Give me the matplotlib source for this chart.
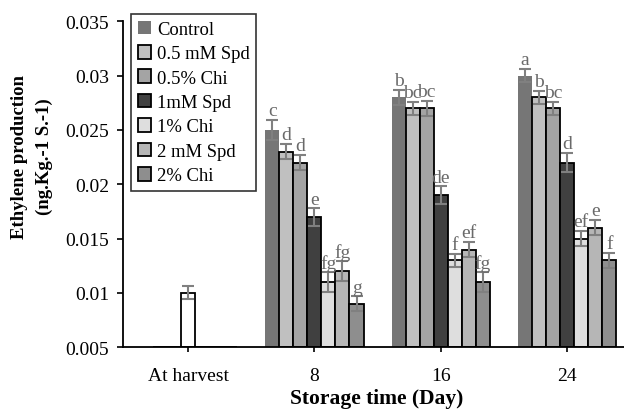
import numpy as np
import matplotlib
matplotlib.use("Agg")
import matplotlib.pyplot as plt

plt.rcParams['font.family'] = ['Liberation Serif', 'DejaVu Serif']

groups = ["At harvest", "8", "16", "24"]
series = ["Control", "0.5 mM Spd", "0.5% Chi", "1mM Spd", "1% Chi", "2 mM Spd", "2% Chi"]
colors = ["#767676", "#c0c0c0", "#a4a4a4", "#404040", "#dedede", "#b6b6b6", "#8e8e8e"]
edges = ["none", "black", "black", "black", "black", "black", "black"]

# storage days 8, 16, 24 (ng.Kg-1 S-1)
control   = [0.025, 0.028, 0.030]
spd_05    = [0.023, 0.027, 0.028]
chi_05    = [0.022, 0.027, 0.027]
spd_1     = [0.017, 0.019, 0.022]
chi_1     = [0.011, 0.013, 0.015]
spd_2     = [0.012, 0.014, 0.016]
chi_2     = [0.009, 0.011, 0.013]
values = [control, spd_05, chi_05, spd_1, chi_1, spd_2, chi_2]

err_control = [0.0009, 0.0007, 0.0006]
err_spd_05  = [0.0007, 0.0006, 0.0006]
err_chi_05  = [0.0007, 0.0007, 0.0006]
err_spd_1   = [0.0008, 0.0008, 0.0009]
err_chi_1   = [0.0009, 0.0006, 0.0007]
err_spd_2   = [0.0009, 0.0007, 0.0007]
err_chi_2   = [0.0007, 0.0009, 0.0007]
errors = [err_control, err_spd_05, err_chi_05, err_spd_1, err_chi_1, err_spd_2, err_chi_2]

letters_control = ["c", "b", "a"]
letters_spd_05  = ["d", "bc", "b"]
letters_chi_05  = ["d", "bc", "bc"]
letters_spd_1   = ["e", "de", "d"]
letters_chi_1   = ["fg", "f", "ef"]
letters_spd_2   = ["fg", "ef", "e"]
letters_chi_2   = ["g", "fg", "f"]
letters = [letters_control, letters_spd_05, letters_chi_05, letters_spd_1,
           letters_chi_1, letters_spd_2, letters_chi_2]

harvest_value = 0.01
harvest_err = 0.0006

base = 0.005
width = 0.111

fig = plt.figure(figsize=(6.24, 4.14), dpi=100)
ax = fig.add_axes([123/624, 1 - 348.3/414, 1 - 123/624, (348.3 - 22.3)/414])

x = np.arange(1, 4)
handles = []
for i, name in enumerate(series):
    pos = x + (i - 3) * width
    h = [v - base for v in values[i]]
    b = ax.bar(pos, h, width, bottom=base, color=colors[i], edgecolor=edges[i],
               linewidth=1.3, label=name, zorder=2)
    handles.append(b)
    # empty slot at harvest
    ax.bar([0 + (i - 3) * width], [0], width, bottom=base, color=colors[i],
           edgecolor=edges[i], linewidth=1.3, zorder=2)
    ax.errorbar(pos, values[i], yerr=errors[i], fmt="none", ecolor="#808080",
                elinewidth=1.5, capsize=4, capthick=1.5, zorder=3)
    for p, v, e, t in zip(pos, values[i], errors[i], letters[i]):
        ax.annotate(t, (p, v + e), xytext=(0, 0.5), textcoords="offset points",
                    ha="center", va="bottom", fontsize=14, color="#6a6a6a", zorder=4)

ax.bar([0], [harvest_value - base], width, bottom=base, color="white",
       edgecolor="black", linewidth=1.3, zorder=2)
ax.errorbar([0], [harvest_value], yerr=[harvest_err], fmt="none", ecolor="#808080",
            elinewidth=1.5, capsize=4, capthick=1.5, zorder=3)

ax.set_xlim(-0.515, 3.45)
ax.set_ylim(0.005, 0.035)
ax.set_yticks([0.005, 0.01, 0.015, 0.02, 0.025, 0.03, 0.035])
ax.set_yticklabels(["0.005", "0.01", "0.015", "0.02", "0.025", "0.03", "0.035"])
ax.set_xticks(range(4))
ax.set_xticklabels(groups)

for s in ["top", "right"]:
    ax.spines[s].set_visible(False)
for s in ["left", "bottom"]:
    ax.spines[s].set_linewidth(1.3)
    ax.spines[s].set_zorder(5)

ax.tick_params(axis="y", direction="out", length=4, width=1.2, pad=6, labelsize=14)
ax.tick_params(axis="x", direction="inout", length=7, width=1.2, pad=11, labelsize=14)

leg = ax.legend(handles=handles, loc="upper left", bbox_to_anchor=(0.016, 1.022),
                fontsize=13.4, frameon=True, fancybox=False, handlelength=0.75,
                handleheight=0.75, handletextpad=0.3, labelspacing=0.38,
                borderpad=0.35, borderaxespad=0)
leg.get_frame().set_edgecolor("black")
leg.get_frame().set_linewidth(1.2)
leg.set_zorder(6)

fig.text(32/624, 1 - 157/414, "Ethylene production\n(ng.Kg.-1 S.-1)", rotation=90,
         ha="center", va="center", fontsize=13.5, fontweight="bold", linespacing=1.6)
fig.text(377/624, 1 - 399/414, "Storage time (Day)", ha="center", va="center",
         fontsize=15.5, fontweight="bold")

fig.savefig("out.png", dpi=100)
